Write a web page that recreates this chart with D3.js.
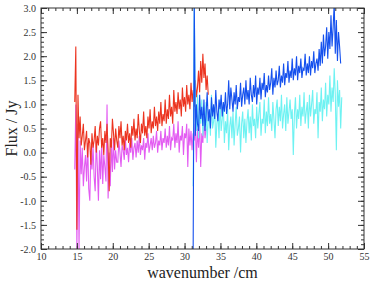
<!DOCTYPE html>
<html>
<head>
<meta charset="utf-8">
<script src="https://cdnjs.cloudflare.com/ajax/libs/d3/7.8.5/d3.min.js"></script>
<style>
body { margin: 0; background: #fff; }
</style>
</head>
<body>
<div id="chart"></div>
<script>
// wavenumber grid of each spectrum (start, spacing in /cm)
var redStart = 14.7, magentaStart = 14.7, blueStart = 31.2, cyanStart = 31.2;
var gridStep = 0.15;

var redFlux = [1.05,2.2,-1.6,1.2,0.3,0.75,0.15,0.35,0.6,0.05,
  0.25,0.45,-0.1,0.3,0.2,-0.25,0.4,0.1,0.25,0.55,
  0.0,0.35,0.15,0.5,0.65,0.1,0.3,-0.05,0.45,0.2,
  0.6,0.05,-0.8,0.3,0.1,0.7,0.4,0.05,0.5,0.25,
  0.1,0.55,0.3,0.65,0.15,0.35,0.05,0.45,0.25,0.6,
  0.2,0.4,0.1,0.55,0.35,0.7,0.25,0.5,0.3,0.8,
  0.45,0.2,0.6,0.4,0.85,0.35,0.55,0.3,0.75,0.5,
  0.9,0.4,0.65,0.5,0.95,0.55,0.75,0.45,0.85,0.6,
  1.05,0.55,0.8,0.65,1.1,0.6,0.9,0.7,1.2,0.75,
  0.95,0.6,1.3,0.85,1.05,0.8,1.25,0.9,1.1,0.75,
  1.35,0.95,1.15,0.85,1.4,1.0,1.2,0.9,1.45,1.05,
  1.3,0.95,1.5,1.15,1.35,1.7,1.25,1.9,1.45,2.05,
  1.55,1.85,1.3,1.6,1.2];

var magentaFlux = [-0.35,1.0,-2.0,0.6,-2.0,0.25,-0.45,0.1,-0.7,-0.3,
  -0.05,-0.6,0.2,-0.75,-1.0,0.0,-0.35,0.15,-0.5,-0.8,
  0.25,-0.3,-1.0,0.05,-0.55,0.2,-0.65,-0.05,-0.3,-0.6,
  1.0,-0.95,0.0,-0.7,0.2,-0.4,0.3,-0.35,0.05,-0.2,
  -0.2,0.25,0.0,-0.3,0.15,0.05,-0.15,0.3,-0.05,0.1,
  -0.2,0.2,0.0,0.3,-0.15,0.1,0.2,-0.1,0.25,0.0,
  0.35,-0.05,0.15,0.05,0.3,-0.15,0.2,0.1,0.4,0.0,
  0.15,0.3,0.05,0.35,0.1,0.2,0.45,0.0,0.25,0.15,
  0.45,0.05,0.3,0.2,0.5,0.1,0.35,0.15,0.55,0.05,
  0.3,0.25,0.6,0.1,0.4,0.2,0.65,0.0,0.35,0.25,
  0.55,-0.05,0.4,0.3,0.6,-0.3,0.5,0.15,0.45,0.05,
  0.4,0.25,0.6,-0.2,0.5,0.1,0.65,-0.3,0.4,0.2,
  0.75,0.3,0.5];

var blueFlux = [-2.0,3.2,0.35,1.0,0.6,0.45,1.2,0.7,0.95,0.55,
  1.1,0.45,0.8,1.25,0.65,0.9,0.5,1.15,0.75,1.0,
  0.7,1.3,0.85,0.65,1.1,0.9,1.2,0.75,1.05,0.85,
  1.25,0.8,1.0,1.5,0.9,1.35,1.1,0.85,1.25,1.0,
  1.4,0.9,1.15,1.05,1.45,0.95,1.2,1.35,1.0,1.5,
  1.1,1.3,1.0,1.55,1.2,1.05,1.4,1.15,1.6,1.0,
  1.35,1.2,1.55,1.1,1.45,1.3,1.65,1.15,1.4,1.25,
  1.6,1.3,1.45,1.75,1.2,1.55,1.35,1.7,1.4,1.5,
  1.8,1.35,1.6,1.45,1.85,1.4,1.65,1.55,1.9,1.45,
  1.7,1.55,1.95,1.5,1.75,1.6,2.0,1.5,1.8,1.65,
  1.95,1.55,1.75,1.7,2.05,1.6,1.85,1.65,2.0,1.6,
  1.9,1.75,2.1,1.65,1.85,1.95,1.7,2.15,1.8,2.3,
  1.85,2.45,2.0,2.2,2.6,1.95,2.5,2.15,2.85,2.2,
  2.6,3.1,2.05,2.75,1.9,2.5,2.2,1.85];

var cyanFlux = [-0.7,3.1,1.0,0.45,1.2,0.3,0.85,0.6,1.1,0.35,
  0.75,0.55,1.05,0.2,0.7,0.9,0.35,1.2,0.5,0.65,
  0.95,0.1,0.6,0.8,0.3,1.1,0.45,0.7,1.0,0.2,
  0.65,0.4,0.9,0.05,0.55,0.75,0.3,0.85,0.15,0.6,
  0.95,0.35,0.5,0.75,0.0,0.6,0.85,0.3,0.7,0.2,
  0.65,0.9,0.4,0.75,0.25,1.0,0.55,0.7,0.3,0.95,
  0.5,0.8,1.05,0.35,0.7,0.6,1.1,0.4,0.85,0.55,
  1.15,0.6,0.8,0.45,1.05,0.7,0.3,0.9,1.1,0.55,
  0.95,0.65,1.2,0.5,0.8,1.0,0.45,1.15,0.6,0.85,
  1.1,0.7,0.9,-0.05,0.8,1.15,0.5,0.9,0.7,1.2,
  0.55,0.95,0.75,1.25,0.6,0.85,1.05,0.5,1.2,0.75,
  1.0,1.3,0.6,0.9,0.8,1.25,0.3,1.05,0.85,1.35,
  0.65,1.1,0.9,1.45,0.75,1.2,1.0,1.6,0.85,1.35,
  1.05,1.75,1.2,0.05,1.5,0.95,1.3,0.5,1.15];

var xTicks = [10,15,20,25,30,35,40,45,50,55];
var yTicks = [-2.0,-1.5,-1.0,-0.5,0.0,0.5,1.0,1.5,2.0,2.5,3.0];

var W = 374, H = 284;
var margin = {top: 8, right: 10, bottom: 35, left: 41};
var w = W - margin.left - margin.right, h = H - margin.top - margin.bottom;

var svg = d3.select("#chart").append("svg")
    .attr("width", W)
    .attr("height", H);

var g = svg.append("g").attr("transform", "translate(" + margin.left + "," + margin.top + ")");

var x = d3.scaleLinear().domain([10, 55]).range([0, w]);
var y = d3.scaleLinear().domain([-2, 3]).range([h, 0]);

g.append("clipPath").attr("id", "clip")
  .append("rect").attr("width", w).attr("height", h);

var toPoints = function(start, vals){
  return vals.map(function(v, i){ return {w: start + i * gridStep, f: v}; });
};

var series = [
  {name: "magenta", color: "#e35cf2", pts: toPoints(magentaStart, magentaFlux)},
  {name: "red", color: "#ec3420", pts: toPoints(redStart, redFlux)},
  {name: "cyan", color: "#6ef2f2", pts: toPoints(cyanStart, cyanFlux)},
  {name: "blue", color: "#1450ee", pts: toPoints(blueStart, blueFlux)}
];

var line = d3.line()
  .x(function(d){ return x(d.w); })
  .y(function(d){ return y(d.f); });

g.append("g").attr("clip-path", "url(#clip)")
  .selectAll("path").data(series).enter().append("path")
    .attr("fill", "none")
    .attr("stroke", function(d){ return d.color; })
    .attr("stroke-width", 1.1)
    .attr("d", function(d){ return line(d.pts); });

var fmt = function(v){ return d3.format(".1f")(v).replace("\u2212", "-"); };
var xMinor = d3.range(10, 56, 1);
var yMinor = d3.range(-20, 31, 1).map(function(v){ return v / 10; });

var styleAxis = function(sel){
  sel.select(".domain").remove();
  sel.selectAll("line").attr("stroke", "#333");
  sel.selectAll("text").attr("fill", "#333")
    .style("font-family", "'Liberation Serif', 'DejaVu Serif', serif")
    .style("font-size", "10px");
};

// bottom
g.append("g").attr("transform", "translate(0," + h + ")")
  .call(d3.axisBottom(x).tickValues(xMinor).tickSize(-3).tickFormat("")).call(styleAxis);
g.append("g").attr("transform", "translate(0," + h + ")")
  .call(d3.axisBottom(x).tickValues(xTicks).tickSize(-6).tickPadding(4).tickFormat(d3.format("d"))).call(styleAxis);
// top
g.append("g")
  .call(d3.axisTop(x).tickValues(xMinor).tickSize(-3).tickFormat("")).call(styleAxis);
g.append("g")
  .call(d3.axisTop(x).tickValues(xTicks).tickSize(-6).tickFormat("")).call(styleAxis);
// left
g.append("g")
  .call(d3.axisLeft(y).tickValues(yMinor).tickSize(-3).tickFormat("")).call(styleAxis);
g.append("g")
  .call(d3.axisLeft(y).tickValues(yTicks).tickSize(-6).tickPadding(5).tickFormat(fmt)).call(styleAxis);
// right
g.append("g").attr("transform", "translate(" + w + ",0)")
  .call(d3.axisRight(y).tickValues(yMinor).tickSize(-3).tickFormat("")).call(styleAxis);
g.append("g").attr("transform", "translate(" + w + ",0)")
  .call(d3.axisRight(y).tickValues(yTicks).tickSize(-6).tickFormat("")).call(styleAxis);

g.append("rect")
  .attr("width", w).attr("height", h)
  .attr("fill", "none").attr("stroke", "#333").attr("stroke-width", 1);

svg.append("text")
  .attr("x", margin.left + w / 2).attr("y", 278)
  .attr("text-anchor", "middle")
  .style("font-family", "'Liberation Serif', 'DejaVu Serif', serif")
  .style("font-size", "16px").attr("fill", "#222")
  .text("wavenumber /cm");

svg.append("text")
  .attr("transform", "translate(17," + (margin.top + h / 2) + ") rotate(-90)")
  .attr("text-anchor", "middle")
  .style("font-family", "'Liberation Serif', 'DejaVu Serif', serif")
  .style("font-size", "16px").attr("fill", "#222")
  .text("Flux / Jy");
</script>
</body>
</html>
